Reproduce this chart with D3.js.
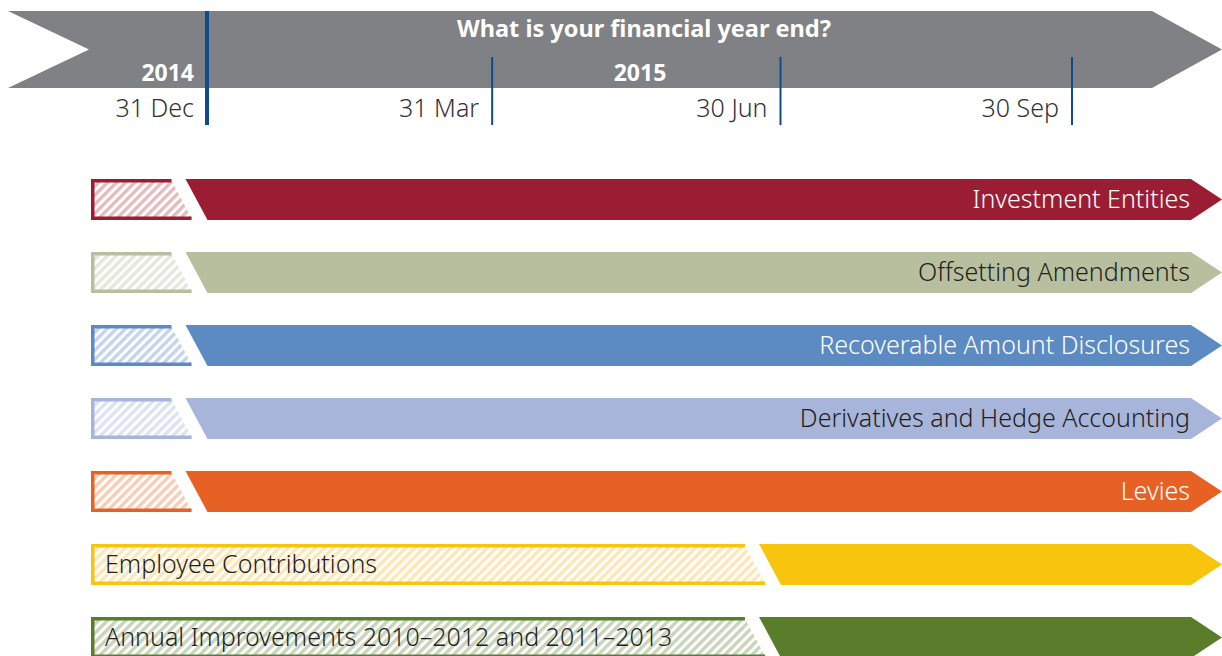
<!DOCTYPE html>
<html>
<head>
<meta charset="utf-8">
<script src="https://cdn.jsdelivr.net/npm/d3@7"></script>
<style>
body{margin:0;background:#fff;}
svg{display:block;}
text{font-family:"Noto Sans","Open Sans",sans-serif;}
</style>
</head>
<body>
<script>
// data
var title="What is your financial year end?";
var yearLabels=["2014","2015"];
var tickDates=["2014-12-31","2015-03-31","2015-06-30","2015-09-30"];
var tickLabels=["31 Dec","31 Mar","30 Jun","30 Sep"];

var standards=["Investment Entities","Offsetting Amendments","Recoverable Amount Disclosures","Derivatives and Hedge Accounting","Levies","Employee Contributions","Annual Improvements 2010\u20132012 and 2011\u20132013"];
var mandatoryFrom=["2014-12-31","2014-12-31","2014-12-31","2014-12-31","2014-12-31","2015-06-30","2015-06-30"];
var barColors=["#9b1d34","#b8bf9e","#5b8bc2","#a8b5da","#e86124","#f8c50e","#5a7d2b"];
var hatchColors=["#e2bdbd","#e4e8da","#c4d4ea","#dde2f1","#f8cdb6","#fde7b6","#c9d4bb"];
var labelColors=["#fff","#231f20","#fff","#231f20","#fff","#231f20","#231f20"];
var labelSide=["end","end","end","end","end","start","start"];

var W=1222,H=656;
var parse=d3.timeParse("%Y-%m-%d");

var svg=d3.select("body").append("svg")
.attr("width",W)
.attr("height",H);
var defs=svg.append("defs");

var x=d3.scaleTime()
.domain([parse(tickDates[0]),parse(tickDates[tickDates.length-1])])
.range([207,1072]);

var y=d3.scalePoint()
.domain(standards)
.range([179,617]);
var barH=41,left=91,tipLen=31,gap=15,slant=11;

// banner
var bTop=11,bBot=88,bMid=(bTop+bBot)/2;
svg.append("path")
.attr("d","M8,"+bTop+"L1152,"+bTop+"L"+W+","+bMid+"L1152,"+bBot+"L8,"+bBot+"L89,"+bMid+"Z")
.attr("fill","#808184");

svg.append("text")
.attr("x",644).attr("y",37)
.attr("text-anchor","middle")
.attr("fill","#fff")
.attr("font-size",23.5).attr("font-weight","bold")
.text(title);

svg.append("text")
.attr("x",x(parse(tickDates[0]))-13).attr("y",81)
.attr("text-anchor","end")
.attr("fill","#fff")
.attr("font-size",23).attr("font-weight","bold")
.text(yearLabels[0]);
svg.append("text")
.attr("x",640).attr("y",81)
.attr("text-anchor","middle")
.attr("fill","#fff")
.attr("font-size",23).attr("font-weight","bold")
.text(yearLabels[1]);

// ticks
var ticks=svg.selectAll("g.tick").data(tickDates).enter().append("g")
.attr("class","tick")
.attr("transform",function(d){return "translate("+x(parse(d))+",0)";});
ticks.append("line")
.attr("y1",function(d,i){return i==0?bTop:57;})
.attr("y2",125)
.attr("stroke","#0e4b8e")
.attr("stroke-width",function(d,i){return i==0?4:2;});
ticks.append("text")
.attr("x",-13).attr("y",117)
.attr("text-anchor","end")
.attr("fill","#333")
.attr("font-size",25).attr("font-weight",300)
.text(function(d,i){return tickLabels[i];});

// hatch patterns
standards.forEach(function(s,i){
	var p=defs.append("pattern")
	.attr("id","hatch"+i)
	.attr("patternUnits","userSpaceOnUse")
	.attr("width",6.4).attr("height",10)
	.attr("patternTransform","rotate(45)");
	p.append("rect").attr("width",6.4).attr("height",10).attr("fill","#fff");
	p.append("rect").attr("width",3.4).attr("height",10).attr("fill",hatchColors[i]);
});

// bars
var rows=svg.selectAll("g.row").data(standards).enter().append("g")
.attr("class","row")
.attr("transform",function(d){return "translate(0,"+y(d)+")";});

function cut(i){return x(parse(mandatoryFrom[i]))-18;}

rows.append("path")
.attr("d",function(d,i){
	var c=cut(i)-gap/2;
	return "M"+left+",0L"+(c-slant)+",0L"+(c+slant)+","+barH+"L"+left+","+barH+"Z";
})
.attr("fill",function(d,i){return "url(#hatch"+i+")";});

rows.append("path")
.attr("d",function(d,i){
	var c=cut(i)-gap/2,s=1.75;
	return "M"+(c-slant+s*slant*2/barH)+","+s+"L"+(left+s)+","+s+"L"+(left+s)+","+(barH-s)+"L"+(c+slant-s*slant*2/barH)+","+(barH-s);
})
.attr("fill","none")
.attr("stroke",function(d,i){return barColors[i];})
.attr("stroke-width",3.5);

rows.append("path")
.attr("d",function(d,i){
	var c=cut(i)+gap/2;
	return "M"+(c-slant)+",0L"+(W-tipLen)+",0L"+W+","+(barH/2)+"L"+(W-tipLen)+","+barH+"L"+(c+slant)+","+barH+"Z";
})
.attr("fill",function(d,i){return barColors[i];});

rows.append("text")
.attr("x",function(d,i){return labelSide[i]=="end"?W-32:105;})
.attr("y",barH/2+8.5)
.attr("text-anchor",function(d,i){return labelSide[i];})
.attr("fill",function(d,i){return labelColors[i];})
.attr("font-size",25).attr("font-weight",300)
.text(function(d){return d;});
</script>
</body>
</html>
